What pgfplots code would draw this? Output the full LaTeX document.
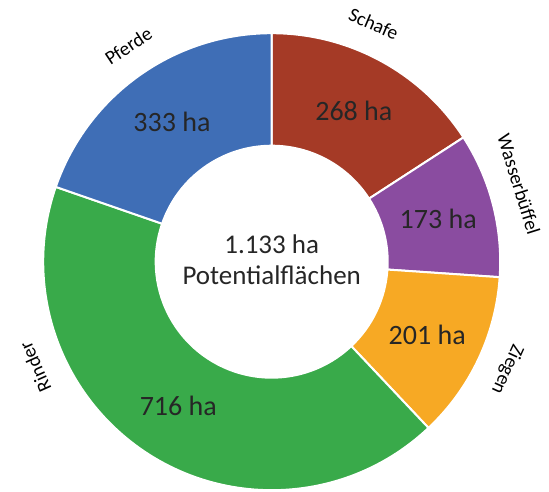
\documentclass[border=0pt]{standalone}
\usepackage{pgfplots}
\pgfplotsset{compat=1.18}
\usepackage{pgfplotstable}
\usepackage{fontspec}
\setmainfont{Carlito}
\definecolor{c0}{RGB}{165,58,38}
\definecolor{c1}{RGB}{138,76,160}
\definecolor{c2}{RGB}{247,169,36}
\definecolor{c3}{RGB}{57,170,74}
\definecolor{c4}{RGB}{63,110,182}
\definecolor{txt}{RGB}{38,38,38}
\pgfplotstableread{
label value
Schafe 268
Wasserbüffel 173
Ziegen 201
Rinder 716
Pferde 333
}\data
\tikzset{
  vallabel/.style={font=\fontsize{28}{32}\selectfont, text=txt},
  ctrlabel/.style={font=\fontsize{27}{31}\selectfont, text=txt},
  outlabel/.style={font=\fontsize{19.5}{22}\selectfont, text=black},
}
\def\cx{271.7}
\def\cy{229.3}
\def\Rout{228.5}
\def\Rin{116}
\def\Rlab{259}
\begin{document}
\begin{tikzpicture}
\pgfplotstablegetrowsof{\data}
\pgfmathtruncatemacro{\nrows}{\pgfplotsretval-1}
\def\total{0}
\pgfplotsforeachungrouped \i in {0,...,\nrows}{%
  \pgfplotstablegetelem{\i}{value}\of\data
  \pgfmathsetmacro{\total}{\total+\pgfplotsretval}%
}
\begin{axis}[hide axis, x=1pt, y=1pt, xmin=0, xmax=549, ymin=0, ymax=491,
  scale only axis, clip=false]
\def\cum{0}
\pgfplotsforeachungrouped \i in {0,...,\nrows}{%
  \pgfplotstablegetelem{\i}{value}\of\data
  \let\val\pgfplotsretval
  \pgfmathsetmacro{\aone}{90-360*(\cum/\total)}%
  \pgfmathsetmacro{\cumnext}{\cum+\val}%
  \pgfmathsetmacro{\atwo}{90-360*(\cumnext/\total)}%
  \pgfmathsetmacro{\amid}{(\aone+\atwo)/2}%
  \edef\cmd{%
    \noexpand\fill[fill=c\i, draw=white, line width=2pt]
      (axis cs:{\cx+\Rout*cos(\aone)},{\cy+\Rout*sin(\aone)})
      arc[start angle=\aone, end angle=\atwo, radius=\Rout pt]
      -- (axis cs:{\cx+\Rin*cos(\atwo)},{\cy+\Rin*sin(\atwo)})
      arc[start angle=\atwo, end angle=\aone, radius=\Rin pt] -- cycle;
    \noexpand\node[vallabel] at (axis cs:{\cx+172*cos(\amid)},{\cy+172*sin(\amid)}) {\val{} ha};
  }%
  \cmd
  \let\cum\cumnext
}
% outer category labels (angle measured clockwise from top)
\node[outlabel, rotate=-23.2] at (axis cs:{\cx+\Rlab*sin(23.2)},{\cy+\Rlab*cos(23.2)}) {Schafe};
\node[outlabel, rotate=-72.6] at (axis cs:{\cx+\Rlab*sin(72.6)},{\cy+\Rlab*cos(72.6)}) {Wasserbüffel};
\node[outlabel, rotate=-114.6] at (axis cs:{\cx+\Rlab*sin(114.6)},{\cy+\Rlab*cos(114.6)}) {Ziegen};
\node[outlabel, rotate=114] at (axis cs:{\cx+\Rlab*sin(246)},{\cy+\Rlab*cos(246)}) {Rinder};
\node[outlabel, rotate=33.6] at (axis cs:{\cx+\Rlab*sin(326.4)},{\cy+\Rlab*cos(326.4)}) {Pferde};
% centre text
\node[ctrlabel, anchor=base] at (axis cs:\cx,238) {1.133 ha};
\node[ctrlabel, anchor=base] at (axis cs:\cx,207) {Potentialflächen};
\end{axis}
\pgfresetboundingbox
\useasboundingbox (current axis.south west) rectangle (current axis.north east);
\end{tikzpicture}
\end{document}
